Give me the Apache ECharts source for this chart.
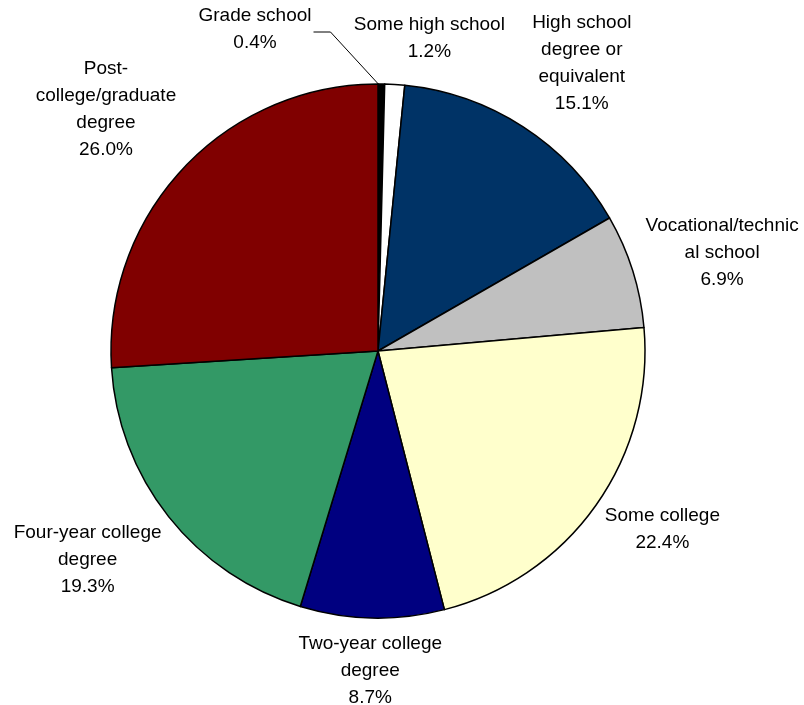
<!DOCTYPE html>
<html>
<head>
<meta charset="utf-8">
<script src="https://cdn.jsdelivr.net/npm/echarts@6/dist/echarts.min.js"></script>
<style>
html,body{margin:0;padding:0;background:#fff;}
#chart{width:804px;height:705px;}
</style>
</head>
<body>
<div id="chart"></div>
<script>
// ---- data ----
const categories = [
  'Grade school',
  'Some high school',
  'High school degree or equivalent',
  'Vocational/technical school',
  'Some college',
  'Two-year college degree',
  'Four-year college degree',
  'Post-college/graduate degree'
];
const labelLines = [
  ['Grade school'],
  ['Some high school'],
  ['High school', 'degree or', 'equivalent'],
  ['Vocational/technic', 'al school'],
  ['Some college'],
  ['Two-year college', 'degree'],
  ['Four-year college', 'degree'],
  ['Post-', 'college/graduate', 'degree']
];
const values = [0.4, 1.2, 15.1, 6.9, 22.4, 8.7, 19.3, 26.0];
const colors = ['#000000', '#FFFFFF', '#003366', '#C0C0C0', '#FFFFCC', '#000080', '#339966', '#800000'];

// ---- layout ----
const CX = 378, CY = 351, R = 267, GAP = 14;
// small per-label nudges (px) on top of the angle-based placement
const nudge = [[0, 0], [29, -5], [24, -7], [3, -2], [8, 0], [0, -2], [-12, 9], [-16, -12]];
const total = values.reduce((a, b) => a + b, 0);
const cum = [];
values.reduce((acc, v, i) => { cum[i] = acc; return acc + v; }, 0);

const chart = echarts.init(document.getElementById('chart'), null, {renderer: 'canvas'});

const data = categories.map((name, i) => ({
  name: name,
  value: values[i],
  itemStyle: {color: colors[i]},
  labelLine: {show: i === 0}
}));

chart.setOption({
  backgroundColor: '#ffffff',
  animation: false,
  series: [{
    type: 'pie',
    center: [CX, CY],
    radius: [0, R],
    startAngle: 90,
    clockwise: true,
    avoidLabelOverlap: false,
    data: data,
    itemStyle: {borderColor: '#000000', borderWidth: 1.5},
    emphasis: {disabled: true},
    label: {
      show: true,
      position: 'outside',
      formatter: p => labelLines[p.dataIndex].join('\n') + '\n' + values[p.dataIndex].toFixed(1) + '%',
      fontFamily: 'Liberation Sans, Arial, sans-serif',
      fontSize: 19,
      lineHeight: 27,
      color: '#000000',
      align: 'center'
    },
    labelLine: {
      show: false,
      lineStyle: {color: '#000000', width: 1}
    },
    labelLayout: function (p) {
      const i = p.dataIndex;
      const mid = (cum[i] + values[i] / 2) / total * Math.PI * 2;
      const s = Math.sin(mid), c = Math.cos(mid);
      const hw = p.labelRect.width / 2, hh = p.labelRect.height / 2;
      if (i === 0) {
        const lx = CX - 123, ly = CY - R - 55;
        const right = lx + hw;
        return {
          x: lx, y: ly, align: 'center', verticalAlign: 'middle',
          labelLinePoints: [[right + 2, ly + 3], [right + 19, ly + 3], [CX + s * R - 3, CY - c * R]]
        };
      }
      return {
        x: CX + s * (R + GAP) + s * hw + nudge[i][0],
        y: CY - c * (R + GAP) - c * hh + nudge[i][1],
        align: 'center',
        verticalAlign: 'middle'
      };
    }
  }]
});
</script>
</body>
</html>
